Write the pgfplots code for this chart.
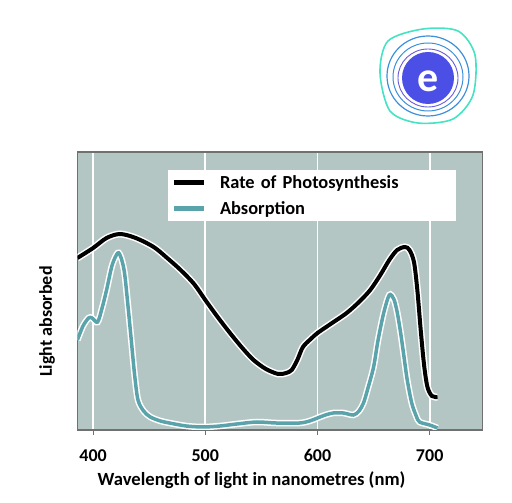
\documentclass[border=0pt]{standalone}
\usepackage{pgfplots}
\pgfplotsset{compat=1.18}
\usepackage{fontspec}
\setmainfont{Carlito}
\definecolor{bgc}{HTML}{B4C6C4}
\definecolor{cyanl}{HTML}{5AA3AB}
\definecolor{frame}{HTML}{707070}
\definecolor{logob}{HTML}{4B4FE6}
\definecolor{ring1}{HTML}{45E3C3}
\definecolor{ring2}{HTML}{3C8FD8}
\definecolor{ring3}{HTML}{6A5BD8}
\begin{document}
\begin{tikzpicture}[x=1pt,y=1pt]
\useasboundingbox (0,0) rectangle (512,503);
% logo (decoration)
\begin{scope}[shift={(428,428)}]
\draw[ring1,line width=1.6] plot[smooth cycle] coordinates {(-48,2) (-40,34) (-5,46) (30,44) (47,20) (45,-20) (25,-44) (-10,-48) (-38,-36)};
\draw[ring2,line width=1.2] (0,-1) ellipse (41 and 40);
\draw[ring2,line width=1.0] (0,-2) ellipse (35 and 34);
\draw[ring3,line width=0.9] (0,-3) ellipse (30 and 29);
\fill[logob] (0,-3) circle (26);
\node[white,font=\fontsize{42}{42}\selectfont\bfseries] at (0,-6) {e};
\end{scope}
\begin{axis}[
  at={(69,73)}, anchor=south west,
  width=405pt, height=278pt, scale only axis,
  xmin=386, xmax=747, ymin=0, ymax=278,
  axis background/.style={fill=bgc},
  axis line style={frame, line width=1.5pt},
  xtick={400,500,600,700}, ytick=\empty,
  xmajorgrids, major grid style={white, line width=1.8pt},
  tick style={frame, line width=1.2pt},
  major tick length=5pt,
  tick align=outside, xtick pos=bottom,
  /pgf/number format/assume math mode=true,
  xticklabel style={font=\fontsize{18}{18}\selectfont\bfseries, yshift=-11pt},
  xlabel={Wavelength of light in nanometres (nm)},
  xlabel style={font=\fontsize{18.6}{19}\selectfont\bfseries, at={(axis description cs:0.43,-0.18)}, anchor=center},
  ylabel={Light absorbed},
  ylabel style={font=\fontsize{18}{18}\selectfont\bfseries, at={(axis description cs:-0.075,0.39)}, anchor=center},
  legend style={at={(axis description cs:0.222,0.935)}, anchor=north west, draw=none, fill=white,
    font=\fontsize{18.4}{18.4}\selectfont\bfseries, row sep=8pt, inner xsep=4pt, inner ysep=3pt,
    nodes={text width=230pt, align=left}},
  legend cell align=left,
  legend image code/.code={\draw[#1, line width=5pt] (0pt,0pt) -- (30pt,0pt); \path[draw=none] (0pt,0pt) -- (44pt,0pt);},
]
% halos
\addplot[white, line width=7pt, smooth, forget plot] coordinates {
(386,172) (400,182) (412,192) (424,196) (438,192) (454,183) (466,172) (478,160) (490,146) (500,130) (511,113) (522,97) (533,82) (543,70) (554,61) (565,56) (572,57) (577,60) (582,70) (587,83) (594,91) (600,97) (613,107) (626,117) (637,128) (647,140) (656,155) (664,170) (671,180) (678,183) (682,180) (686,168) (689,140) (692,100) (695,65) (698,43) (702,34) (707,33)};
\addplot[white, line width=6.5pt, smooth, forget plot] coordinates {
(386,90) (391,104) (396,112) (399,112) (404,108) (408,122) (412,140) (417,165) (422,177) (425,172) (428,157) (431,125) (434,90) (437,55) (440,30) (445,19) (451,13) (460,9) (468,7) (483,4) (498,3) (513,4) (528,6) (546,8) (563,7) (584,7) (593,9) (600,12) (607,15) (614,17) (623,17) (632,15) (637,19) (641,27) (645,42) (650,63) (654,90) (659,117) (664,135) (668,131) (671,118) (674,98) (677,74) (680,50) (684,27) (688,14) (691,8) (700,5) (707,2)};
% data
\addplot[black, line width=4pt, smooth] coordinates {
(386,172) (400,182) (412,192) (424,196) (438,192) (454,183) (466,172) (478,160) (490,146) (500,130) (511,113) (522,97) (533,82) (543,70) (554,61) (565,56) (572,57) (577,60) (582,70) (587,83) (594,91) (600,97) (613,107) (626,117) (637,128) (647,140) (656,155) (664,170) (671,180) (678,183) (682,180) (686,168) (689,140) (692,100) (695,65) (698,43) (702,34) (707,33)};
\addlegendentry{Rate of Photosynthesis}
\addplot[cyanl, line width=3.5pt, smooth] coordinates {
(386,90) (391,104) (396,112) (399,112) (404,108) (408,122) (412,140) (417,165) (422,177) (425,172) (428,157) (431,125) (434,90) (437,55) (440,30) (445,19) (451,13) (460,9) (468,7) (483,4) (498,3) (513,4) (528,6) (546,8) (563,7) (584,7) (593,9) (600,12) (607,15) (614,17) (623,17) (632,15) (637,19) (641,27) (645,42) (650,63) (654,90) (659,117) (664,135) (668,131) (671,118) (674,98) (677,74) (680,50) (684,27) (688,14) (691,8) (700,5) (707,2)};
\addlegendentry{Absorption}
\end{axis}
\end{tikzpicture}
\end{document}
